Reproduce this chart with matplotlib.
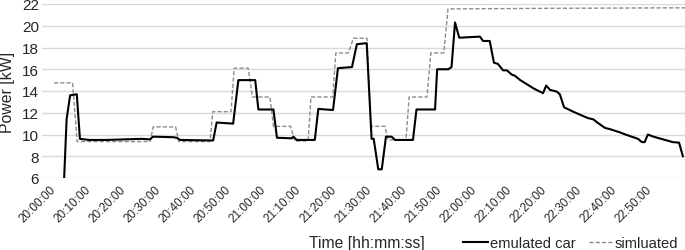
import matplotlib
matplotlib.use("Agg")
import matplotlib.pyplot as plt
from matplotlib.lines import Line2D

plt.rcParams['font.family'] = ['Liberation Sans', 'DejaVu Sans']

# minutes after 20:00:00
emul_t = [2.9, 3.6, 4.6, 6.5, 7.4, 10, 15, 20, 25, 27.4, 28.2, 34, 35, 36, 45.4, 46.4,
          51.1, 52.6, 57.4, 58.3, 62.6, 63.6, 67.8, 68.3, 69.2, 74.4, 75.4, 79.6, 81, 85,
          86.4, 89.2, 90.6, 91.2, 92.5, 93.5, 94.7, 96.3, 97.3, 102.4, 103.4, 108.7, 109.3,
          112.5, 113.4, 114.4, 115.6, 121.5, 122.4, 124.3, 125.5, 126.6, 128.1, 129.2,
          130.6, 131.5, 133, 135, 137, 139.5, 140.4, 141.5, 143.4, 144.3, 145.5, 148.1,
          150.9, 152.4, 153.8, 155, 157.2, 158.5, 161.4, 163, 166.6, 167.7, 168.5, 169.4,
          171, 176.5, 178.3, 179.4]
emul_v = [6.0, 11.4, 13.6, 13.7, 9.6, 9.5, 9.5, 9.55, 9.6, 9.55, 9.8, 9.75, 9.7, 9.5, 9.45, 11.1,
          11.0, 15.0, 15.0, 12.3, 12.3, 9.7, 9.65, 9.8, 9.5, 9.5, 12.35, 12.25, 16.1, 16.2,
          18.3, 18.4, 9.6, 9.6, 6.8, 6.8, 9.8, 9.8, 9.5, 9.5, 12.3, 12.3, 16.0,
          16.0, 16.2, 20.3, 18.9, 19.0, 18.6, 18.6, 16.6, 16.5, 15.9, 15.9,
          15.5, 15.4, 15.0, 14.6, 14.2, 13.8, 14.5, 14.1, 13.95, 13.7, 12.5, 12.1,
          11.7, 11.5, 11.4, 11.1, 10.6, 10.5, 10.2, 10.0, 9.6, 9.3, 9.3, 10.0,
          9.8, 9.3, 9.25, 8.0]

sim_t = [0, 5.3, 6.6, 27.4, 28.3, 34.7, 35.6, 44.5, 45.3, 50.5, 51.4, 55.4, 56.6, 61.6,
         62.6, 67.5, 68.7, 72.5, 73.3, 79.5, 80.4, 84, 85.4, 89.3, 90.4, 94.4, 95.3, 100.4,
         101.3, 106.4, 107.5, 111.2, 112.4, 140, 180]
sim_v = [14.75, 14.75, 9.35, 9.35, 10.7, 10.7, 9.35, 9.35, 12.1, 12.1, 16.1, 16.1, 13.45, 13.45,
         10.75, 10.75, 9.4, 9.4, 13.45, 13.45, 17.5, 17.5, 18.85, 18.85, 10.75, 10.75, 9.5, 9.5,
         13.45, 13.45, 17.5, 17.5, 21.55, 21.6, 21.65]

tick_minutes = list(range(0, 180, 10))
tick_labels = ["20:00:00", "20:10:00", "20:20:00", "20:30:00", "20:40:00", "20:50:00",
               "21:00:00", "21:10:00", "21:20:00", "21:30:00", "21:40:00", "21:50:00",
               "22:00:00", "22:10:00", "22:20:00", "22:30:00", "22:40:00", "22:50:00"]
y_ticks = [6, 8, 10, 12, 14, 16, 18, 20, 22]

TXT = '#262626'

fig = plt.figure(figsize=(6.85, 2.51), dpi=100)
ax = fig.add_axes([42/685, 72/251, 643/685, 174/251])

ax.plot(sim_t, sim_v, color='#8c8c8c', lw=1.0, linestyle=(0, (3, 1.5)), label='simluated', zorder=3)
ax.plot(emul_t, emul_v, color='black', lw=1.5, label='emulated car', zorder=4)

ax.set_xlim(-3.42, 180.0)
ax.set_ylim(6, 22)
ax.set_yticks(y_ticks)
ax.set_yticklabels([str(v) for v in y_ticks], fontsize=11, color=TXT)
ax.set_xticks(tick_minutes)
ax.set_xticklabels(tick_labels, rotation=45, ha='right', va='center',
                   rotation_mode='anchor', fontsize=8.5, color=TXT)
ax.tick_params(axis='both', length=0)
ax.tick_params(axis='y', pad=2)
ax.tick_params(axis='x', pad=7)
ax.grid(axis='y', color='#d9d9d9', lw=1.0)
ax.set_axisbelow(True)
for s in ax.spines.values():
    s.set_visible(False)

ax.set_ylabel('Power [kW]', fontsize=11.4, color=TXT, labelpad=5)

fig.text(367/685, 7.5/251, 'Time [hh:mm:ss]', ha='center', va='center', fontsize=11.3, color=TXT)

handles = [Line2D([], [], color='black', lw=1.5),
           Line2D([], [], color='#8c8c8c', lw=1.0, linestyle=(0, (3, 1.5)))]
leg = fig.legend(handles, ['emulated car', 'simluated'], loc='center left',
                 bbox_to_anchor=(463/685, 7/251), ncol=2, frameon=False, fontsize=10.6,
                 handlelength=1.7, handletextpad=0.1, columnspacing=0.9, borderpad=0,
                 borderaxespad=0)
for t in leg.get_texts():
    t.set_color(TXT)

fig.savefig('out.png', dpi=100)
